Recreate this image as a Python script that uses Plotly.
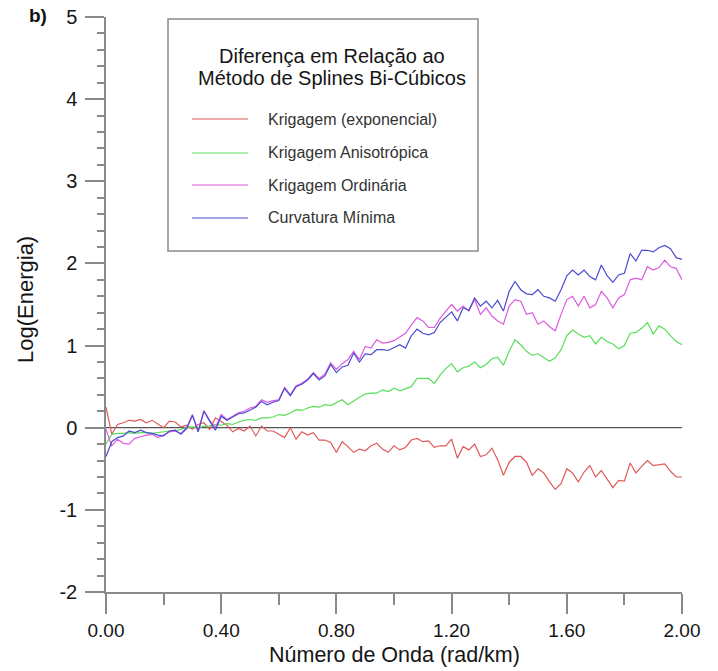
import plotly.graph_objects as go

# ---------------- data ----------------
x_step = 0.02
wavenumber = [round(i * x_step, 2) for i in range(101)]

krig_exponencial = [
    0.25, -0.08, 0.04, 0.06, 0.09, 0.08, 0.10, 0.06, 0.09, 0.04,
    0.00, 0.08, 0.07, 0.01, 0.03, -0.02, 0.04, 0.06, -0.02, 0.12,
    0.08, 0.03, -0.05, -0.01, -0.04, 0.02, -0.10, 0.02, -0.04, -0.04,
    -0.08, -0.12, 0.00, -0.14, -0.05, -0.09, -0.06, -0.15, -0.15, -0.18,
    -0.30, -0.17, -0.23, -0.30, -0.26, -0.28, -0.22, -0.19, -0.26, -0.30,
    -0.22, -0.27, -0.24, -0.15, -0.13, -0.17, -0.16, -0.24, -0.22, -0.22,
    -0.14, -0.37, -0.23, -0.27, -0.20, -0.35, -0.33, -0.25, -0.39, -0.58,
    -0.42, -0.35, -0.35, -0.42, -0.58, -0.50, -0.55, -0.66, -0.75, -0.68,
    -0.50, -0.55, -0.66, -0.54, -0.46, -0.60, -0.52, -0.62, -0.73, -0.64,
    -0.65, -0.43, -0.55, -0.47, -0.40, -0.46, -0.45, -0.44, -0.53, -0.60,
    -0.60,
]

krig_anisotropica = [
    -0.20, -0.08, -0.07, -0.07, -0.06, -0.07, -0.06, -0.06, -0.07, -0.06,
    -0.05, -0.04, -0.04, -0.02, 0.00, 0.01, 0.00, 0.02, 0.02, 0.04,
    0.03, 0.05, 0.04, 0.07, 0.09, 0.10, 0.09, 0.12, 0.12, 0.13,
    0.16, 0.15, 0.18, 0.22, 0.21, 0.24, 0.26, 0.25, 0.28, 0.27,
    0.31, 0.34, 0.28, 0.33, 0.37, 0.41, 0.42, 0.42, 0.46, 0.44,
    0.48, 0.45, 0.48, 0.50, 0.60, 0.60, 0.60, 0.54, 0.64, 0.72,
    0.78, 0.68, 0.73, 0.75, 0.80, 0.73, 0.77, 0.84, 0.86, 0.76,
    0.93, 1.07, 1.01, 0.93, 0.88, 0.90, 0.86, 0.81, 0.85, 0.95,
    1.12, 1.19, 1.14, 1.10, 1.12, 1.02, 1.10, 1.05, 1.02, 0.96,
    1.00, 1.15, 1.16, 1.21, 1.28, 1.14, 1.24, 1.20, 1.12, 1.05,
    1.01,
]

krig_ordinaria = [
    -0.02, -0.22, -0.14, -0.19, -0.20, -0.13, -0.11, -0.09, -0.08, -0.12,
    -0.09, -0.05, -0.04, -0.07, 0.00, 0.16, -0.04, 0.21, 0.09, 0.00,
    0.16, 0.10, 0.14, 0.18, 0.20, 0.24, 0.26, 0.34, 0.31, 0.33,
    0.34, 0.49, 0.40, 0.51, 0.54, 0.59, 0.67, 0.60, 0.65, 0.79,
    0.71, 0.78, 0.83, 0.93, 0.83, 0.99, 0.97, 1.07, 1.03, 1.04,
    1.06, 1.11, 1.15, 1.25, 1.34, 1.30, 1.22, 1.22, 1.33, 1.42,
    1.50, 1.42, 1.48, 1.42, 1.56, 1.38, 1.46, 1.36, 1.30, 1.26,
    1.48, 1.56, 1.54, 1.38, 1.40, 1.26, 1.30, 1.23, 1.18, 1.38,
    1.56, 1.60, 1.48, 1.60, 1.46, 1.50, 1.66, 1.58, 1.46, 1.58,
    1.62, 1.80, 1.82, 1.80, 1.96, 1.92, 1.95, 2.04, 1.96, 1.94,
    1.80,
]

curvatura_minima = [
    -0.35, -0.17, -0.12, -0.10, -0.04, -0.06, -0.03, -0.06, -0.07, -0.09,
    -0.10, -0.04, -0.03, -0.08, -0.01, 0.15, -0.05, 0.20, 0.08, -0.03,
    0.14, 0.09, 0.13, 0.17, 0.18, 0.22, 0.25, 0.32, 0.28, 0.31,
    0.33, 0.48, 0.39, 0.50, 0.53, 0.58, 0.66, 0.58, 0.63, 0.77,
    0.67, 0.74, 0.76, 0.91, 0.80, 0.90, 0.89, 0.95, 0.95, 0.94,
    0.98, 1.01, 0.97, 1.12, 1.20, 1.15, 1.13, 1.16, 1.28, 1.35,
    1.41, 1.30, 1.46, 1.43, 1.58, 1.48, 1.54, 1.46, 1.55, 1.42,
    1.66, 1.78, 1.68, 1.63, 1.62, 1.68, 1.60, 1.58, 1.54, 1.68,
    1.85, 1.92, 1.86, 1.92, 1.84, 1.80, 1.98, 1.85, 1.77, 1.86,
    1.88, 2.12, 2.03, 2.16, 2.16, 2.14, 2.19, 2.22, 2.18, 2.07,
    2.05,
]

series_names = ["Krigagem (exponencial)", "Krigagem Anisotrópica",
                "Krigagem Ordinária", "Curvatura Mínima"]
series_values = [krig_exponencial, krig_anisotropica, krig_ordinaria, curvatura_minima]
series_colors = ["#e05a5a", "#5ade5a", "#de5ade", "#4a4ad2"]

x_tickvals = [0.0, 0.4, 0.8, 1.2, 1.6, 2.0]
x_ticktext = ["0.00", "0.40", "0.80", "1.20", "1.60", "2.00"]
y_tickvals = [-2, -1, 0, 1, 2, 3, 4, 5]
y_ticktext = ["-2", "-1", "0", "1", "2", "3", "4", "5"]

legend_title_lines = ["Diferença em Relação ao", "Método de Splines Bi-Cúbicos"]
x_title = "Número de Onda (rad/km)"
y_title = "Log(Energia)"
panel_label = "b)"

# ---------------- figure ----------------
W, H = 718, 671
L, R, T, B = 106, 36, 17, 79
PW, PH = W - L - R, H - T - B


def px_x(p):
    return (p - L) / PW


def px_y(p):
    return (H - B - p) / PH


FONT = "Liberation Sans, Arial, sans-serif"
AX = "#8a8a8a"
TXT = "#151515"

fig = go.Figure()
for name, vals, col in zip(series_names, series_values, series_colors):
    fig.add_trace(go.Scatter(x=wavenumber, y=vals, mode="lines", name=name,
                             line=dict(color=col, width=1.2), showlegend=False))

# zero reference line
fig.add_shape(type="line", xref="x", yref="y", x0=0, x1=2.0, y0=0, y1=0,
              line=dict(color="#555555", width=1.2), layer="below")

# legend box (manual)
fig.add_shape(type="rect", xref="paper", yref="paper",
              x0=px_x(168), x1=px_x(478), y0=px_y(251), y1=px_y(19),
              line=dict(color=AX, width=1.5), fillcolor="rgba(0,0,0,0)")
for i, line_txt in enumerate(legend_title_lines):
    fig.add_annotation(xref="paper", yref="paper", x=px_x(332), y=px_y(56 + 22 * i),
                       text=line_txt, showarrow=False, xanchor="center", yanchor="middle",
                       font=dict(family=FONT, size=20, color=TXT))
entry_y = [119, 153, 185, 218]
for name, col, ey in zip(series_names, series_colors, entry_y):
    fig.add_shape(type="line", xref="paper", yref="paper",
                  x0=px_x(192), x1=px_x(248), y0=px_y(ey), y1=px_y(ey),
                  line=dict(color=col, width=1.2))
    fig.add_annotation(xref="paper", yref="paper", x=px_x(266), y=px_y(ey),
                       text=name, showarrow=False, xanchor="left", yanchor="middle",
                       font=dict(family=FONT, size=16, color="#333333"))

fig.add_annotation(xref="paper", yref="paper", x=px_x(38), y=px_y(16),
                   text="<b>" + panel_label + "</b>", showarrow=False,
                   xanchor="center", yanchor="middle",
                   font=dict(family=FONT, size=19, color="#111111"))

# axis titles as annotations for exact placement
fig.add_annotation(xref="paper", yref="paper", x=px_x(394), y=px_y(655),
                   text=x_title, showarrow=False, xanchor="center", yanchor="middle",
                   font=dict(family=FONT, size=21.5, color=TXT))
fig.add_annotation(xref="paper", yref="paper", x=px_x(25), y=px_y(300),
                   text=y_title, showarrow=False, xanchor="center", yanchor="middle",
                   textangle=-90, font=dict(family=FONT, size=22, color=TXT))

fig.update_layout(
    width=W, height=H, autosize=False,
    margin=dict(l=L, r=R, t=T, b=B, pad=0),
    paper_bgcolor="white", plot_bgcolor="white",
    font=dict(family=FONT, color=TXT),
    xaxis=dict(range=[0, 2.0], showgrid=False, zeroline=False, automargin=False,
               showline=True, linecolor=AX, linewidth=1.5,
               ticks="outside", ticklen=20, tickwidth=1.5, tickcolor=AX,
               tickvals=x_tickvals, ticktext=x_ticktext,
               tickfont=dict(family=FONT, size=19, color=TXT),
               minor=dict(dtick=0.2, ticks="outside", ticklen=11, tickwidth=1.5,
                          tickcolor=AX, showgrid=False)),
    yaxis=dict(range=[-2, 5], showgrid=False, zeroline=False, automargin=False,
               showline=True, linecolor=AX, linewidth=1.5,
               ticks="outside", ticklen=19, tickwidth=1.5, tickcolor=AX,
               tickvals=y_tickvals, ticktext=y_ticktext, ticklabelstandoff=4,
               tickfont=dict(family=FONT, size=20, color=TXT),
               minor=dict(dtick=0.2, ticks="outside", ticklen=7, tickwidth=1.5,
                          tickcolor=AX, showgrid=False)),
)

fig.write_html("out.html")
